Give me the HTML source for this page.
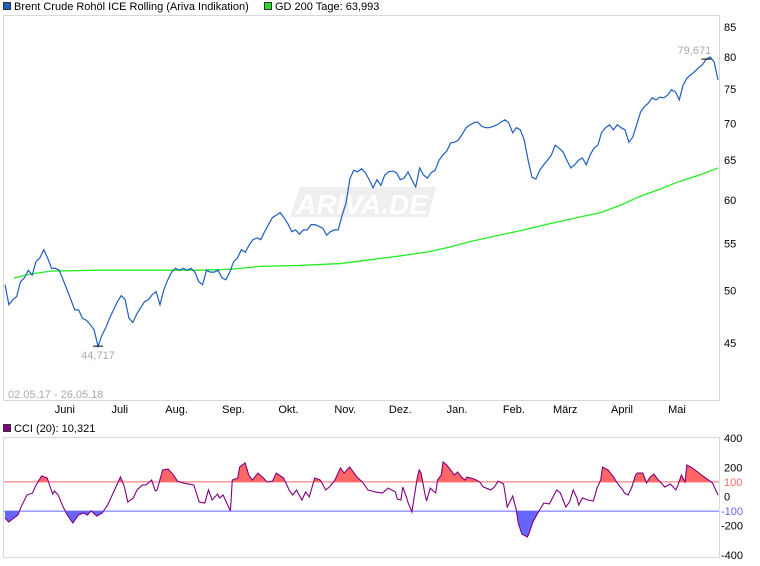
<!DOCTYPE html>
<html><head><meta charset="utf-8"><style>
body{margin:0;background:#fff;font-family:"Liberation Sans",sans-serif;}
svg{display:block}
text{font-family:"Liberation Sans",sans-serif;}
</style></head><body>
<svg id="c" width="760" height="566" viewBox="0 0 760 566">
<g>
<rect x="3.5" y="2.5" width="7" height="7" fill="#1f5fbf" stroke="#333"/>
<text x="14" y="10" font-size="11" fill="#000">Brent Crude Rohöl ICE Rolling (Ariva Indikation)</text>
<rect x="264.5" y="2.5" width="7" height="7" fill="#22dd22" stroke="#333"/>
<text x="275" y="10" font-size="11" fill="#000">GD 200 Tage: 63,993</text>
</g>
<rect x="3.5" y="15.5" width="716" height="385" fill="none" stroke="#d8d8d8"/>
<g opacity="0.13">
<path d="M300 187 L436 187 L428 217 L290 217 Z" fill="#888"/>
<text x="362" y="214" font-size="28" font-style="italic" font-weight="bold" fill="#fff" text-anchor="middle">ARIVA.DE</text>
</g>
<g id="main"></g>
<g id="yax"></g>
<g id="xax"></g>
<text x="8" y="398" font-size="11" fill="#aaa">02.05.17 - 26.05.18</text>
<g>
<rect x="3.5" y="424.5" width="7" height="7" fill="#800080" stroke="#333"/>
<text x="14" y="432" font-size="11" fill="#000">CCI (20): 10,321</text>
</g>
<rect x="3.5" y="437.5" width="716" height="120" fill="none" stroke="#d8d8d8"/>
<g id="cci"></g>
<g id="cax"></g>
</svg>
<script>
const price = [50.6,48.6,49.1,49.4,50.9,51.3,52.1,51.6,53.0,53.4,54.3,53.4,52.3,52.3,52.1,51.1,50.1,49.1,48.1,48.1,47.3,47.1,46.7,46.2,44.7,45.7,46.4,47.3,48.1,48.9,49.5,49.1,47.3,46.9,47.7,48.3,48.9,49.1,49.6,49.9,48.6,50.1,51.1,51.9,52.3,52.1,52.3,52.1,52.3,51.9,50.9,50.6,52.1,51.9,51.9,52.1,51.3,51.1,51.9,53.0,53.4,54.3,54.0,54.8,55.4,55.6,55.4,56.3,57.1,57.9,58.2,58.5,57.9,57.2,56.3,56.5,56.0,56.5,56.5,57.1,57.1,56.9,56.7,55.9,56.3,56.5,56.5,58.2,59.6,62.6,63.7,63.5,63.9,63.4,62.5,61.5,62.5,61.8,63.1,63.5,63.6,63.4,62.5,62.7,63.5,62.5,61.6,64.0,63.1,62.7,63.4,63.7,65.0,65.7,66.2,67.3,67.4,67.7,68.5,69.4,69.8,70.1,70.2,69.6,69.4,69.4,69.6,69.8,70.2,70.5,70.1,68.7,69.4,69.1,67.7,65.0,62.8,62.6,63.7,64.4,65.0,65.7,67.0,66.6,66.1,65.0,64.0,64.4,65.0,65.3,64.4,65.7,66.6,67.0,68.8,69.4,69.8,69.1,69.8,69.4,69.1,67.4,68.1,69.8,71.6,72.4,72.9,73.7,73.4,73.8,73.7,74.1,74.9,74.6,73.4,75.6,76.7,77.2,77.7,78.3,78.8,79.7,80.0,79.2,76.4];
const maDays = [5,14,25,52,79,106,123,139,161,183,199,215,232,243,254,265,281,297,314,325,336,346,357,368,379,389];
const maValues = [51.3,51.7,52.0,52.1,52.1,52.1,52.2,52.5,52.6,52.8,53.2,53.6,54.1,54.6,55.2,55.7,56.4,57.2,58.0,58.5,59.4,60.4,61.3,62.3,63.1,64.0];
const cciDays = [0,2,7,9,12,15,17,20,23,26,27,29,32,34,37,40,43,45,47,50,53,56,59,63,65,67,70,72,75,77,80,82,83,86,89,92,94,97,103,106,109,111,113,116,117,119,121,123,124,127,128,131,133,135,138,141,143,146,148,152,155,157,159,162,164,166,169,172,175,177,180,183,185,188,192,195,198,202,206,209,213,214,216,217,219,220,222,223,225,226,227,229,230,232,233,235,236,238,239,241,244,245,247,249,251,252,256,259,261,265,267,269,272,273,274,276,277,279,280,282,285,286,288,291,294,297,301,303,306,308,310,312,313,315,318,321,323,325,326,329,332,334,337,338,340,342,344,345,348,350,352,354,356,358,360,363,366,367,369,371,372,375,378,380,383,386,387,389];
const cciValues = [-147,-175,-127,-65,10,24,79,141,127,17,38,10,-79,-127,-182,-127,-113,-127,-99,-134,-113,-58,24,134,72,-38,-10,45,79,79,113,38,45,182,189,147,106,93,79,-38,-45,45,-24,17,-10,10,-45,-99,113,127,202,230,147,113,161,127,99,106,161,127,45,10,45,-24,31,-3,127,113,45,65,113,196,161,202,134,99,45,31,24,58,31,-17,-24,65,-3,-45,-106,-24,134,182,161,24,-31,58,45,24,113,147,237,216,168,147,168,134,113,134,120,99,65,45,65,106,86,10,-72,-24,3,-93,-182,-257,-278,-250,-175,-106,-45,-51,45,24,-72,-38,45,-10,-58,-10,-24,-31,58,113,202,182,134,93,45,24,10,65,147,161,161,93,134,154,120,93,65,86,45,72,147,99,216,196,168,147,120,93,65,10];
const priceTicks = [45,50,55,60,65,70,75,80,85];
const cciTicks = [400,200,100,0,-100,-200,-400];
const monthLabels = ["Juni","Juli","Aug.","Sep.","Okt.","Nov.","Dez.","Jan.","Feb.","März","April","Mai"];
const monthDays = [31,61,92,123,153,184,214,245,276,304,335,365];
const priceMax = 79.671, priceMaxIdx = 181, priceMin = 44.717, priceMinIdx = 24;

const NS="http://www.w3.org/2000/svg";
function mk(tag,attrs,parent){const e=document.createElementNS(NS,tag);for(const k in attrs)e.setAttribute(k,attrs[k]);parent.appendChild(e);return e;}
const X0=5,X1=718,DAYS=389;
const xDay=d=>X0+(X1-X0)*d/DAYS;
const xIdx=i=>X0+(X1-X0)*i/(price.length-1);
const yP=v=>343-497*Math.log(v/45);
const yC=v=>496.5-v*0.1458;
const main=document.getElementById('main'),cci=document.getElementById('cci');
const yax=document.getElementById('yax'),xax=document.getElementById('xax'),cax=document.getElementById('cax');

let ma=mk('polyline',{points:maDays.map((d,i)=>xDay(d)+','+yP(maValues[i])).join(' '),fill:'none',stroke:'#22ee22','stroke-width':1.3},main);


let pl=mk('polyline',{points:price.map((v,i)=>xIdx(i)+','+yP(v)).join(' '),fill:'none',stroke:'#1f5fbf','stroke-width':1.2},main);


const hx=xIdx(priceMaxIdx),hy=yP(priceMax);
let hm=mk('line',{x1:hx-5,x2:hx+5,y1:hy,y2:hy,stroke:'#000'},main);


let ht=mk('text',{x:hx-12,y:hy-5,'font-size':11,fill:'#aaa','text-anchor':'middle'},main);ht.textContent=priceMax.toFixed(3).replace('.',',');


const lx=xIdx(priceMinIdx),ly=yP(priceMin);
let lm=mk('line',{x1:lx-5,x2:lx+5,y1:ly,y2:ly,stroke:'#000'},main);


let lt=mk('text',{x:lx,y:ly+13,'font-size':11,fill:'#aaa','text-anchor':'middle'},main);lt.textContent=priceMin.toFixed(3).replace('.',',');


priceTicks.forEach(t=>{const e=mk('text',{x:724,y:yP(t)+4,'font-size':11,fill:'#000'},yax);e.textContent=t;

});
monthLabels.forEach((m,i)=>{const e=mk('text',{x:xDay(monthDays[i])+3,y:413,'font-size':11,fill:'#000','text-anchor':'middle'},xax);e.textContent=m;

});
const pts=cciDays.map((d,i)=>[xDay(d),yC(cciValues[i])]);
const defs=mk('defs',{},cci);
const c1=mk('clipPath',{id:'cu'},defs);mk('rect',{x:0,y:0,width:760,height:yC(100)},c1);
const c2=mk('clipPath',{id:'cd'},defs);mk('rect',{x:0,y:yC(-100),width:760,height:100},c2);
const poly=lvl=>pts[0][0]+','+yC(lvl)+' '+pts.map(p=>p.join(',')).join(' ')+' '+pts[pts.length-1][0]+','+yC(lvl);
let fu=mk('polygon',{points:poly(100),fill:'#ff6666','clip-path':'url(#cu)'},cci);


let fd=mk('polygon',{points:poly(-100),fill:'#6666ff','clip-path':'url(#cd)'},cci);


let r1=mk('line',{x1:4,x2:719,y1:yC(100),y2:yC(100),stroke:'#ff6666'},cci);


let r2=mk('line',{x1:4,x2:719,y1:yC(-100),y2:yC(-100),stroke:'#6666ff'},cci);


let cl=mk('polyline',{points:pts.map(p=>p.join(',')).join(' '),fill:'none',stroke:'#800080','stroke-width':1.1},cci);


cciTicks.forEach(t=>{const col=t===100?'#ff6666':t===-100?'#6666ff':'#000';const e=mk('text',{x:t<0?721:724,y:yC(t)+4,'font-size':11,fill:col},cax);e.textContent=t;

});
</script>
</body></html>
